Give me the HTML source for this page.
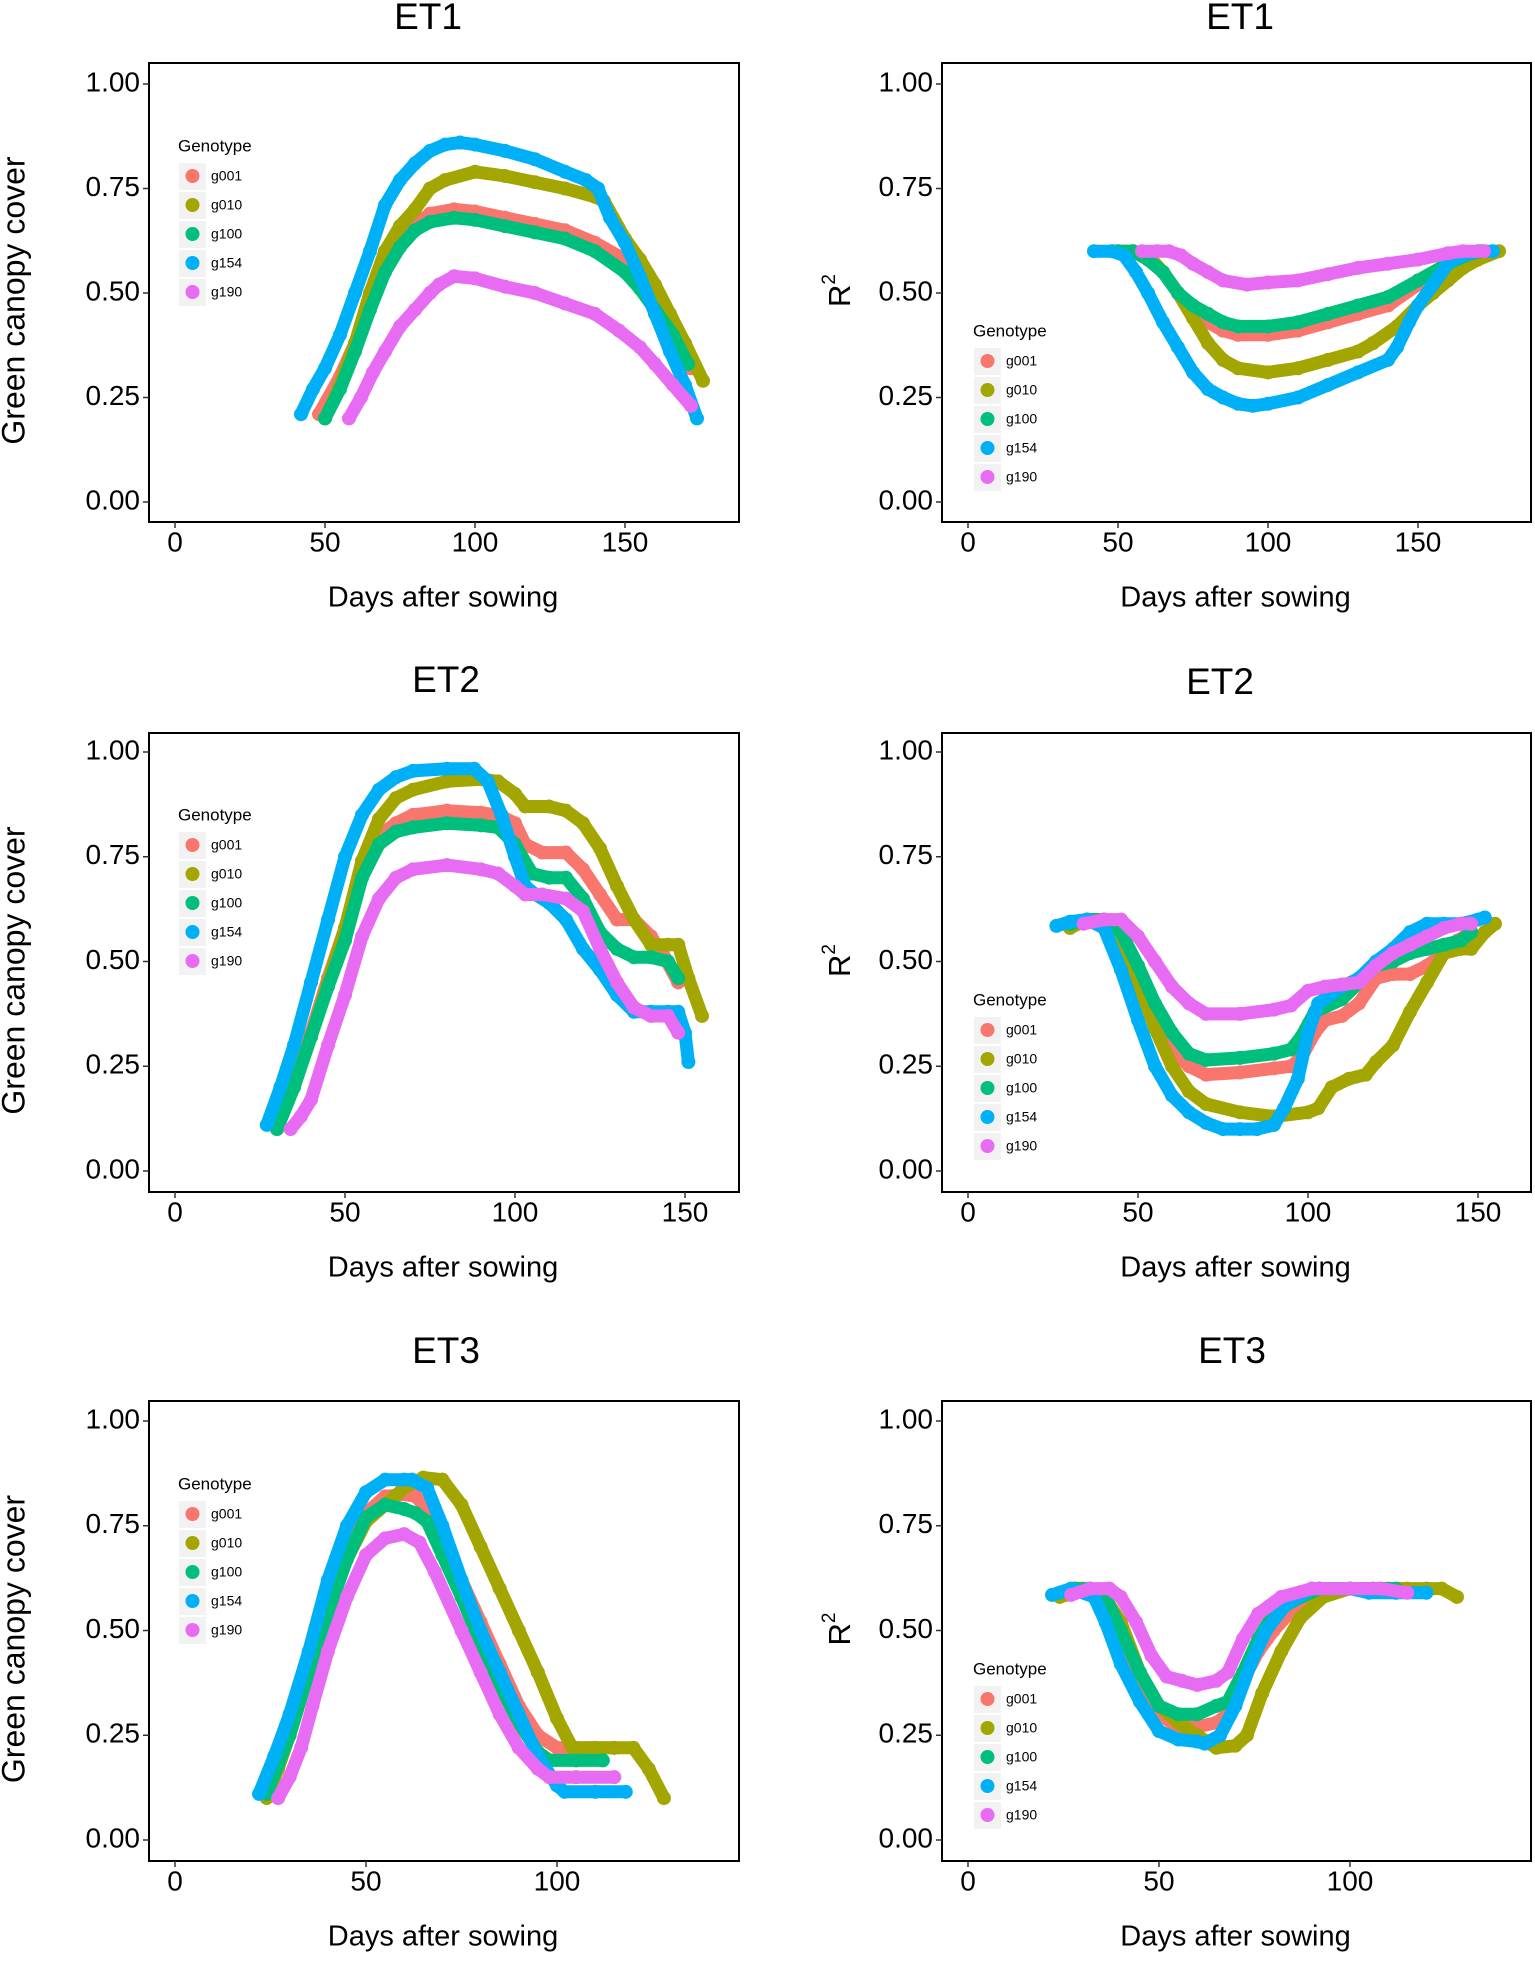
<!DOCTYPE html>
<html><head><meta charset="utf-8"><style>
html,body{margin:0;padding:0;background:#fff;}
svg{display:block;font-family:"Liberation Sans",Arial,sans-serif;}
</style></head><body>
<svg id="fig" width="1535" height="1962" viewBox="0 0 1535 1962" xmlns="http://www.w3.org/2000/svg"></svg>
<script>
const genotypes = ["g001","g010","g100","g154","g190"];
// ET1 green canopy cover
const et1CcDays_g001=[48,55,60,65,70,75,80,85,93,100,110,120,130,140,150,155,160,166,172];
const et1CcVals_g001=[0.21,0.30,0.38,0.47,0.56,0.62,0.66,0.69,0.70,0.695,0.68,0.665,0.65,0.62,0.58,0.54,0.47,0.40,0.32];
const et1CcDays_g010=[50,55,60,65,70,75,80,85,90,100,110,120,130,140,143,150,155,160,165,170,176];
const et1CcVals_g010=[0.20,0.28,0.38,0.50,0.60,0.66,0.70,0.75,0.77,0.79,0.78,0.765,0.75,0.73,0.72,0.63,0.58,0.52,0.45,0.38,0.29];
const et1CcDays_g100=[50,55,60,65,70,75,80,85,93,100,110,120,130,140,150,155,160,166,171];
const et1CcVals_g100=[0.20,0.27,0.36,0.46,0.55,0.61,0.65,0.67,0.68,0.675,0.66,0.645,0.63,0.60,0.55,0.51,0.46,0.40,0.33];
const et1CcDays_g154=[42,46,50,55,60,65,70,75,80,85,90,95,100,110,120,130,137,141,145,150,155,160,165,170,174];
const et1CcVals_g154=[0.21,0.27,0.32,0.40,0.50,0.60,0.71,0.77,0.81,0.84,0.855,0.86,0.855,0.84,0.82,0.79,0.77,0.75,0.68,0.62,0.54,0.45,0.36,0.28,0.20];
const et1CcDays_g190=[58,62,66,70,75,80,85,88,93,100,110,120,130,140,148,155,160,166,172];
const et1CcVals_g190=[0.20,0.25,0.31,0.36,0.42,0.46,0.50,0.52,0.54,0.535,0.515,0.50,0.475,0.45,0.41,0.37,0.33,0.28,0.23];
// ET1 R2
const et1R2Days_g001=[48,55,60,65,70,75,80,85,90,100,110,120,130,140,150,160,166,172];
const et1R2Vals_g001=[0.60,0.60,0.58,0.55,0.50,0.46,0.43,0.41,0.40,0.40,0.41,0.43,0.45,0.47,0.52,0.56,0.58,0.60];
const et1R2Days_g010=[50,55,60,65,70,75,80,85,90,100,110,120,130,135,143,150,155,160,165,170,177];
const et1R2Vals_g010=[0.60,0.60,0.59,0.55,0.50,0.44,0.38,0.34,0.32,0.31,0.32,0.34,0.36,0.38,0.42,0.47,0.50,0.53,0.56,0.58,0.60];
const et1R2Days_g100=[50,55,60,65,70,75,80,85,90,100,110,120,130,140,150,160,166,171];
const et1R2Vals_g100=[0.60,0.60,0.58,0.55,0.50,0.47,0.45,0.43,0.42,0.42,0.43,0.45,0.47,0.49,0.53,0.57,0.59,0.60];
const et1R2Days_g154=[42,48,52,56,60,65,70,75,80,85,90,95,100,110,120,130,140,143,147,150,155,160,165,170,175];
const et1R2Vals_g154=[0.60,0.60,0.59,0.55,0.50,0.43,0.37,0.31,0.27,0.25,0.235,0.23,0.235,0.25,0.28,0.31,0.34,0.37,0.43,0.47,0.52,0.57,0.59,0.60,0.60];
const et1R2Days_g190=[58,63,67,71,75,80,85,93,100,110,120,130,140,150,160,165,172];
const et1R2Vals_g190=[0.60,0.60,0.60,0.59,0.57,0.55,0.53,0.52,0.525,0.53,0.545,0.56,0.57,0.58,0.595,0.60,0.60];
// ET2 green canopy cover
const et2CcDays_g001=[29,35,40,45,50,55,60,65,70,80,90,95,100,103,108,115,120,125,130,135,140,144,148];
const et2CcVals_g001=[0.11,0.22,0.33,0.46,0.58,0.72,0.80,0.83,0.85,0.86,0.855,0.85,0.83,0.78,0.76,0.76,0.72,0.66,0.60,0.60,0.56,0.51,0.45];
const et2CcDays_g010=[30,35,40,45,50,55,60,65,70,80,90,95,100,103,110,115,120,125,130,135,140,145,148,151,155];
const et2CcVals_g010=[0.10,0.20,0.32,0.45,0.58,0.74,0.84,0.89,0.91,0.93,0.935,0.93,0.90,0.87,0.87,0.86,0.83,0.77,0.68,0.60,0.54,0.54,0.54,0.46,0.37];
const et2CcDays_g100=[30,35,40,45,50,55,60,65,70,80,90,95,100,105,110,115,120,125,130,135,140,145,148];
const et2CcVals_g100=[0.10,0.20,0.32,0.44,0.55,0.70,0.78,0.81,0.82,0.83,0.825,0.82,0.78,0.71,0.70,0.70,0.65,0.57,0.53,0.51,0.51,0.50,0.46];
const et2CcDays_g154=[27,31,35,40,45,50,55,60,65,70,80,88,92,96,100,103,106,110,115,120,125,130,135,140,145,148,150,151];
const et2CcVals_g154=[0.11,0.20,0.30,0.45,0.60,0.75,0.85,0.91,0.94,0.955,0.96,0.96,0.93,0.85,0.75,0.68,0.66,0.64,0.60,0.53,0.48,0.42,0.38,0.38,0.38,0.38,0.33,0.26];
const et2CcDays_g190=[34,37,40,45,50,55,60,65,70,80,90,95,100,103,108,115,120,125,130,135,140,145,148];
const et2CcVals_g190=[0.10,0.13,0.17,0.30,0.42,0.56,0.65,0.70,0.72,0.73,0.72,0.71,0.68,0.66,0.66,0.65,0.62,0.53,0.45,0.39,0.37,0.37,0.33];
// ET2 R2
const et2R2Days_g001=[29,35,40,45,50,55,60,65,70,80,90,95,98,102,105,110,115,120,125,130,135,140,144,148];
const et2R2Vals_g001=[0.59,0.60,0.60,0.57,0.47,0.37,0.29,0.25,0.23,0.235,0.245,0.25,0.27,0.33,0.36,0.37,0.40,0.46,0.47,0.47,0.49,0.52,0.55,0.57];
const et2R2Days_g010=[30,35,40,45,50,55,60,65,70,80,90,100,103,107,112,117,120,125,130,135,140,145,148,152,155];
const et2R2Vals_g010=[0.58,0.60,0.60,0.55,0.45,0.34,0.25,0.19,0.16,0.14,0.13,0.14,0.15,0.20,0.22,0.23,0.26,0.30,0.38,0.45,0.52,0.53,0.53,0.57,0.59];
const et2R2Days_g100=[30,35,40,45,50,55,60,65,70,80,90,95,98,102,110,115,120,125,130,135,140,145,148];
const et2R2Vals_g100=[0.59,0.60,0.60,0.57,0.49,0.40,0.33,0.28,0.265,0.27,0.28,0.29,0.32,0.38,0.41,0.45,0.49,0.50,0.52,0.53,0.54,0.55,0.57];
const et2R2Days_g154=[26,30,35,40,45,50,55,60,65,70,75,80,85,90,93,97,100,103,110,115,120,125,130,135,140,145,150,152];
const et2R2Vals_g154=[0.585,0.595,0.60,0.58,0.48,0.36,0.25,0.18,0.14,0.115,0.10,0.10,0.10,0.11,0.15,0.22,0.33,0.40,0.44,0.46,0.50,0.53,0.57,0.59,0.59,0.59,0.60,0.605];
const et2R2Days_g190=[34,40,45,50,55,60,65,70,80,90,95,100,105,110,115,120,125,130,135,140,145,148];
const et2R2Vals_g190=[0.59,0.60,0.60,0.56,0.50,0.44,0.40,0.375,0.375,0.385,0.395,0.43,0.44,0.445,0.45,0.49,0.52,0.54,0.56,0.58,0.59,0.59];
// ET3 green canopy cover
const et3CcDays_g001=[24,27,30,35,40,45,50,55,60,63,66,70,75,80,85,90,95,100,105,110,115];
const et3CcVals_g001=[0.11,0.18,0.25,0.40,0.55,0.69,0.78,0.82,0.825,0.82,0.79,0.72,0.62,0.52,0.42,0.32,0.25,0.22,0.22,0.22,0.22];
const et3CcDays_g010=[24,27,30,35,40,45,50,55,60,65,70,75,80,85,90,95,100,104,110,115,120,124,128];
const et3CcVals_g010=[0.10,0.17,0.25,0.40,0.55,0.67,0.76,0.80,0.84,0.865,0.86,0.80,0.70,0.60,0.50,0.40,0.29,0.22,0.22,0.22,0.22,0.17,0.10];
const et3CcDays_g100=[24,27,30,35,40,45,50,55,60,63,66,70,75,80,85,90,95,98,105,112];
const et3CcVals_g100=[0.11,0.18,0.25,0.40,0.54,0.67,0.77,0.80,0.79,0.78,0.76,0.68,0.58,0.47,0.37,0.28,0.21,0.19,0.19,0.19];
const et3CcDays_g154=[22,26,30,35,40,45,50,55,60,62,66,70,75,80,85,90,95,100,102,110,118];
const et3CcVals_g154=[0.11,0.20,0.30,0.45,0.62,0.75,0.83,0.86,0.86,0.86,0.84,0.75,0.62,0.50,0.40,0.30,0.20,0.13,0.115,0.115,0.115];
const et3CcDays_g190=[27,30,33,36,40,45,50,55,60,64,68,75,80,85,90,95,98,105,115];
const et3CcVals_g190=[0.10,0.15,0.22,0.32,0.45,0.58,0.68,0.72,0.73,0.71,0.64,0.50,0.40,0.30,0.22,0.17,0.15,0.15,0.15];
// ET3 R2
const et3R2Days_g001=[24,28,32,36,40,45,50,55,60,65,68,72,76,80,85,92,100,108,115];
const et3R2Vals_g001=[0.59,0.60,0.60,0.57,0.48,0.37,0.30,0.27,0.27,0.28,0.30,0.38,0.45,0.50,0.55,0.60,0.60,0.60,0.60];
const et3R2Days_g010=[24,28,30,35,40,45,50,55,60,65,70,73,77,82,87,93,100,110,120,124,128];
const et3R2Vals_g010=[0.58,0.59,0.60,0.59,0.52,0.40,0.32,0.28,0.25,0.22,0.225,0.25,0.35,0.45,0.53,0.58,0.60,0.60,0.60,0.60,0.58];
const et3R2Days_g100=[24,28,32,36,40,45,50,55,60,65,68,72,76,80,85,92,100,106,112];
const et3R2Vals_g100=[0.59,0.60,0.60,0.58,0.50,0.40,0.32,0.30,0.30,0.32,0.33,0.40,0.48,0.54,0.57,0.60,0.60,0.60,0.60];
const et3R2Days_g154=[22,27,33,36,40,45,50,55,60,62,66,70,74,78,83,90,100,105,112,120];
const et3R2Vals_g154=[0.585,0.60,0.58,0.52,0.42,0.33,0.26,0.24,0.235,0.23,0.25,0.32,0.42,0.50,0.56,0.60,0.60,0.59,0.59,0.59];
const et3R2Days_g190=[27,32,37,40,44,48,52,56,60,65,68,72,76,82,90,100,108,115];
const et3R2Vals_g190=[0.585,0.60,0.60,0.58,0.52,0.44,0.39,0.38,0.37,0.38,0.40,0.48,0.54,0.58,0.60,0.60,0.60,0.59];

const yTickVals=[0,0.25,0.5,0.75,1];
const yTickLabels=["0.00","0.25","0.50","0.75","1.00"];
const xTicksRow1=[0,50,100,150];
const xTicksRow2=[0,50,100,150];
const xTicksRow3=[0,50,100];

const colors={g001:"#F8766D",g010:"#A3A500",g100:"#00BF7D",g154:"#00B0F6",g190:"#E76BF3"};
const NS="http://www.w3.org/2000/svg";
const svg=document.getElementById('fig');
function mk(tag,attrs,parent,text){const e=document.createElementNS(NS,tag);for(const k in attrs)e.setAttribute(k,attrs[k]);if(text!==undefined)e.textContent=text;(parent||svg).appendChild(e);return e;}

const panels=[
 {id:"et1-cc",title:"ET1",col:0,row:0,x0:175,left:149,right:739,top:63,bottom:522,y0:502,yk:418,xk:3.0,ticks:xTicksRow1,tx:428,ty:19,leg:147,
  days:[et1CcDays_g001,et1CcDays_g010,et1CcDays_g100,et1CcDays_g154,et1CcDays_g190],vals:[et1CcVals_g001,et1CcVals_g010,et1CcVals_g100,et1CcVals_g154,et1CcVals_g190]},
 {id:"et1-r2",title:"ET1",col:1,row:0,x0:968,left:942,right:1531,top:63,bottom:522,y0:502,yk:418,xk:3.0,ticks:xTicksRow1,tx:1240,ty:19,leg:332,
  days:[et1R2Days_g001,et1R2Days_g010,et1R2Days_g100,et1R2Days_g154,et1R2Days_g190],vals:[et1R2Vals_g001,et1R2Vals_g010,et1R2Vals_g100,et1R2Vals_g154,et1R2Vals_g190]},
 {id:"et2-cc",title:"ET2",col:0,row:1,x0:175,left:149,right:739,top:733,bottom:1192,y0:1171,yk:419,xk:3.4,ticks:xTicksRow2,tx:446,ty:682,leg:816,
  days:[et2CcDays_g001,et2CcDays_g010,et2CcDays_g100,et2CcDays_g154,et2CcDays_g190],vals:[et2CcVals_g001,et2CcVals_g010,et2CcVals_g100,et2CcVals_g154,et2CcVals_g190]},
 {id:"et2-r2",title:"ET2",col:1,row:1,x0:968,left:942,right:1531,top:733,bottom:1192,y0:1171,yk:419,xk:3.4,ticks:xTicksRow2,tx:1220,ty:684,leg:1001,
  days:[et2R2Days_g001,et2R2Days_g010,et2R2Days_g100,et2R2Days_g154,et2R2Days_g190],vals:[et2R2Vals_g001,et2R2Vals_g010,et2R2Vals_g100,et2R2Vals_g154,et2R2Vals_g190]},
 {id:"et3-cc",title:"ET3",col:0,row:2,x0:175,left:149,right:739,top:1401,bottom:1861,y0:1840,yk:419,xk:3.82,ticks:xTicksRow3,tx:446,ty:1353,leg:1485,
  days:[et3CcDays_g001,et3CcDays_g010,et3CcDays_g100,et3CcDays_g154,et3CcDays_g190],vals:[et3CcVals_g001,et3CcVals_g010,et3CcVals_g100,et3CcVals_g154,et3CcVals_g190]},
 {id:"et3-r2",title:"ET3",col:1,row:2,x0:968,left:942,right:1531,top:1401,bottom:1861,y0:1840,yk:419,xk:3.82,ticks:xTicksRow3,tx:1232,ty:1353,leg:1670,
  days:[et3R2Days_g001,et3R2Days_g010,et3R2Days_g100,et3R2Days_g154,et3R2Days_g190],vals:[et3R2Vals_g001,et3R2Vals_g010,et3R2Vals_g100,et3R2Vals_g154,et3R2Vals_g190]}
];

panels.forEach(p=>{
  const g=mk('g',{});
  
  
  const xs=d=>p.x0+d*p.xk, ys=v=>p.y0-v*p.yk;
  const t=mk('text',{x:p.tx,y:p.ty,'font-size':37,'text-anchor':'middle','dominant-baseline':'middle',fill:'#000'},g,p.title);
  
  
  const clip=mk('clipPath',{id:'clip-'+p.id},g);
  mk('rect',{x:p.left,y:p.top,width:p.right-p.left,height:p.bottom-p.top},clip);
  const series=mk('g',{'clip-path':'url(#clip-'+p.id+')'},g);
  
  
  genotypes.forEach((gn,i)=>{
    const sg=mk('g',{},series);
    
    
    const D=p.days[i],V=p.vals[i];
    const pts=D.map((d,k)=>xs(d).toFixed(1)+','+ys(V[k]).toFixed(1)).join(' ');
    const pl=mk('polyline',{points:pts,fill:'none',stroke:colors[gn],'stroke-width':13,'stroke-linecap':'round','stroke-linejoin':'round'},sg);
    
    
    D.forEach((d,k)=>{
      const c=mk('circle',{cx:xs(d),cy:ys(V[k]),r:7,fill:colors[gn]},sg);
      
      
    });
  });
  const box=mk('rect',{x:p.left,y:p.top,width:p.right-p.left,height:p.bottom-p.top,fill:'none',stroke:'#000','stroke-width':2},g);
  
  
  yTickVals.forEach((v,i)=>{
    const y=ys(v);
    mk('line',{x1:p.left-6,x2:p.left,y1:y,y2:y,stroke:'#333','stroke-width':1.5},g);
    const l=mk('text',{x:p.left-9,y:y,'font-size':28,'text-anchor':'end','dominant-baseline':'middle',fill:'#000'},g,yTickLabels[i]);
    
    
  });
  p.ticks.forEach(d=>{
    const x=xs(d);
    mk('line',{x1:x,x2:x,y1:p.bottom,y2:p.bottom+6,stroke:'#333','stroke-width':1.5},g);
    const l=mk('text',{x:x,y:p.bottom+22,'font-size':28,'text-anchor':'middle','dominant-baseline':'middle',fill:'#000'},g,String(d));
    
    
  });
  const xt=mk('text',{x:(p.left+p.right)/2-1,y:p.bottom+77,'font-size':29,'text-anchor':'middle','dominant-baseline':'middle',fill:'#000'},g,'Days after sowing');
  
  
  const cy=(p.top+p.bottom)/2;
  if(p.col===0){
    const yt=mk('text',{x:0,y:0,'font-size':32,'text-anchor':'middle','dominant-baseline':'middle',fill:'#000',transform:'translate(16,'+(cy+8)+') rotate(-90)'},g,'Green canopy cover');
    
    
  } else {
    const yt=mk('text',{x:0,y:0,'font-size':31,'text-anchor':'middle','dominant-baseline':'middle',fill:'#000',transform:'translate(842,'+(cy-2)+') rotate(-90)'},g);
    
    
    yt.textContent='R';
    mk('tspan',{'font-size':19,dy:-12},yt,'2');
  }
  const lx=p.col===0?178:973;
  const lg=mk('g',{},g);
  
  
  mk('text',{x:lx,y:p.leg,'font-size':17,'dominant-baseline':'middle',fill:'#000'},lg,'Genotype');
  genotypes.forEach((gn,i)=>{
    const y=p.leg+29+i*29;
    const e=mk('g',{},lg);
    
    
    mk('rect',{x:lx+1,y:y-13,width:27,height:27,fill:'#F2F2F2'},e);
    mk('circle',{cx:lx+14.5,cy:y,r:7,fill:colors[gn]},e);
    mk('text',{x:lx+33,y:y+1,'font-size':14,'dominant-baseline':'middle',fill:'#000'},e,gn);
  });
});
</script>
</body></html>
